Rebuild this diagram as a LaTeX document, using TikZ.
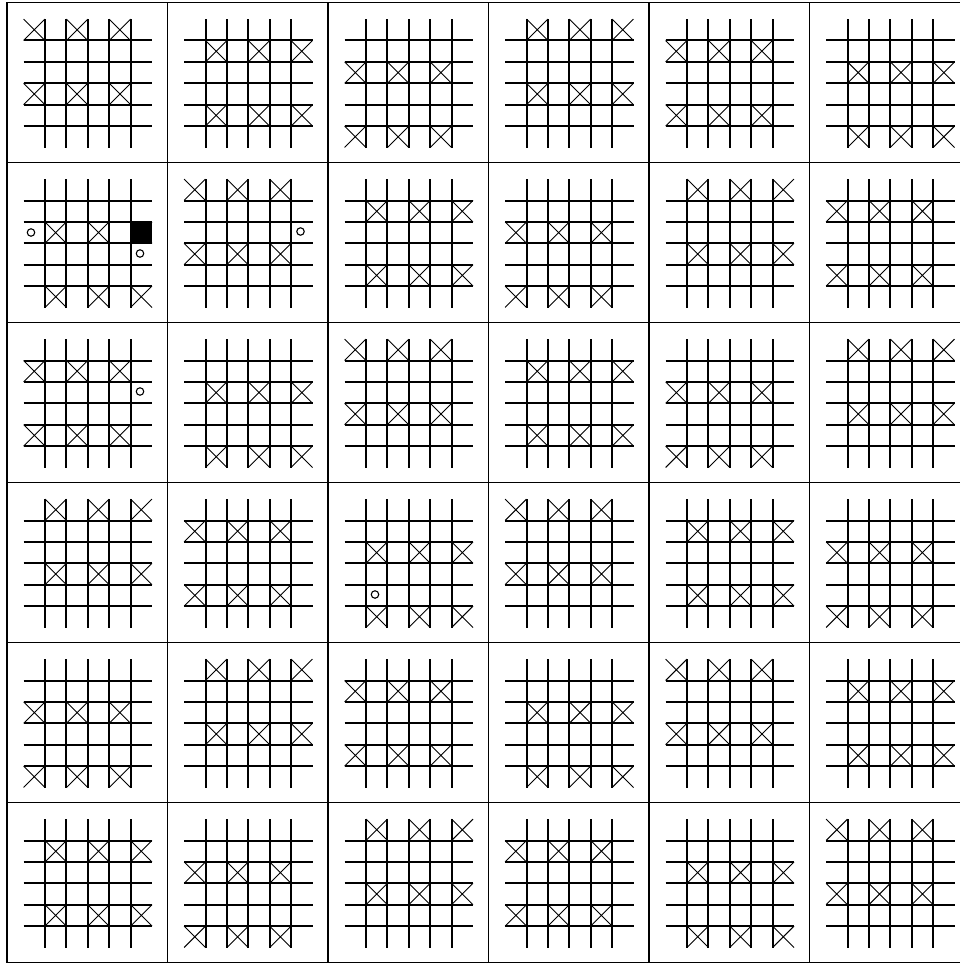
\documentclass[tikz,border=0pt]{standalone}
\usetikzlibrary{calc}

\begin{document}
\begin{tikzpicture}[x=1pt,y=-1pt,
  frame/.style={draw=black,line width=1.5pt},
  gridline/.style={black,line width=2pt},
  crossline/.style={black,line width=0.9pt},
  hole/.style={circle,draw=black,line width=1.1pt,inner sep=0pt,minimum size=7.5pt},
  blackbox/.style={fill=black}
]
\useasboundingbox (0,0) rectangle (960,963);
% frames of the 6x6 boards
\foreach \i in {0,...,6} {
  \draw[frame] (7+160.5*\i,2.5) -- (7+160.5*\i,962.5);
  \draw[frame] (7,2.5+160*\i) -- (975,2.5+160*\i);
}
% boards: row/col of board, row/col offset of the crosses
\foreach \R/\C/\r/\c in {0/0/0/0, 0/1/1/1, 0/2/2/0, 0/3/0/1, 0/4/1/0, 0/5/2/1,
                         1/0/2/1, 1/1/0/0, 1/2/1/1, 1/3/2/0, 1/4/0/1, 1/5/1/0,
                         2/0/1/0, 2/1/2/1, 2/2/0/0, 2/3/1/1, 2/4/2/0, 2/5/0/1,
                         3/0/0/1, 3/1/1/0, 3/2/2/1, 3/3/0/0, 3/4/1/1, 3/5/2/0,
                         4/0/2/0, 4/1/0/1, 4/2/1/0, 4/3/2/1, 4/4/0/0, 4/5/1/1,
                         5/0/1/1, 5/1/2/0, 5/2/0/1, 5/3/1/0, 5/4/2/1, 5/5/0/0} {
  \begin{scope}[shift={(7+160.5*\C,2.5+160*\R)}]
    \foreach \k in {1,...,5} {
      \draw[gridline] (16.6+21.4*\k,16.6) -- (16.6+21.4*\k,145);
      \draw[gridline] (16.6,16.6+21.4*\k) -- (145,16.6+21.4*\k);
    }
    \foreach \dr in {0,3} {
      \foreach \dc in {0,2,4} {
        \pgfmathsetmacro\xa{16.6+21.4*(\c+\dc)}
        \pgfmathsetmacro\ya{16.6+21.4*(\r+\dr)}
        \draw[crossline] (\xa,\ya) -- ++(21.4,21.4)
                         (\xa+21.4,\ya) -- ++(-21.4,21.4);
      }
    }
  \end{scope}
}
% marks
\fill[blackbox] (7+123.6,162.5+59.4) rectangle ++(21.4,21.4);
\node[hole] (h1) at (7+24,162.5+70) {};
\node[hole] (h2) at (7+133,162.5+91) {};
\node[hole] (h3) at (167.5+133,162.5+69) {};
\node[hole] (h4) at (7+133,322.5+69) {};
\node[hole] (h5) at (328+47,482.5+112) {};
\end{tikzpicture}
\end{document}
